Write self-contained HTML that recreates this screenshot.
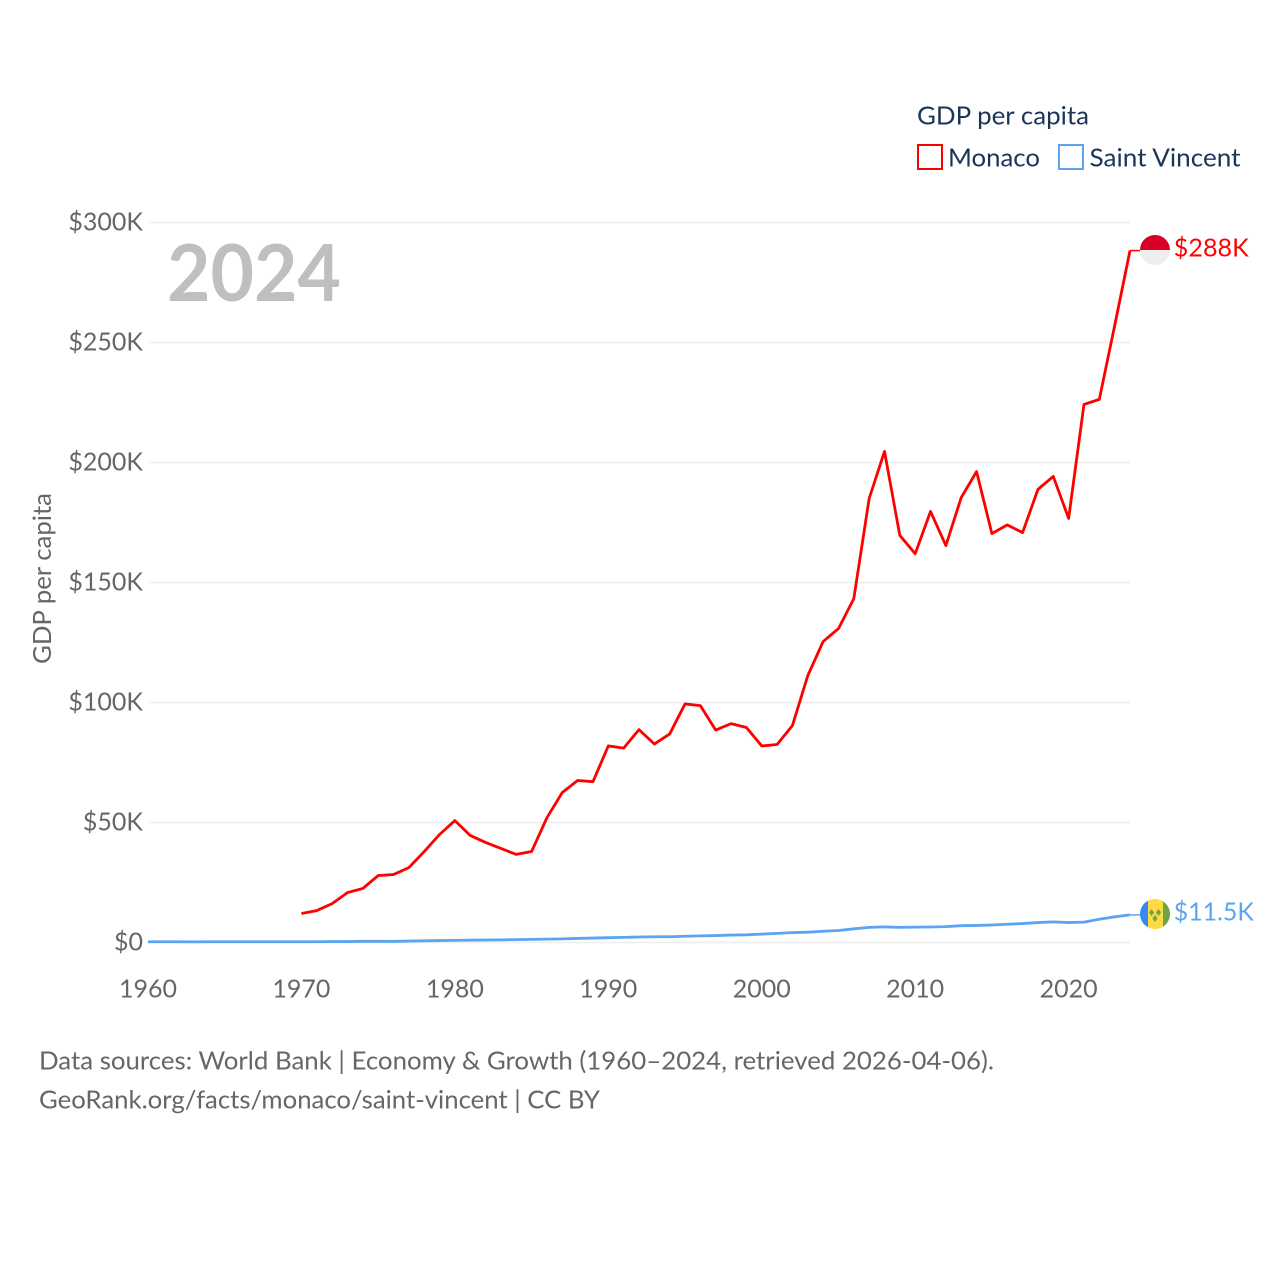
<!DOCTYPE html>
<html lang="en">
<head>
<meta charset="utf-8">
<title>GDP per capita: Monaco and Saint Vincent</title>
<style>
html,body{margin:0;padding:0;background:#fff;width:1280px;height:1280px;overflow:hidden}
svg{display:block}
text{font-family:"Lato","Carlito","Liberation Sans",sans-serif}
</style>
</head>
<body>
<svg id="chart" xmlns="http://www.w3.org/2000/svg" width="1280" height="1280" viewBox="0 0 1280 1280">
  <rect x="0" y="0" width="1280" height="1280" fill="#fff"/>
  <g id="grid"></g>
  <g id="yticks"></g>
  <g id="xticks"></g>
  <text x="167" y="301" font-size="79" font-weight="700" fill="#bfbfbf" textLength="174" lengthAdjust="spacingAndGlyphs">2024</text>
  <text transform="translate(51,664) rotate(-90)" font-size="25.500" fill="#666" textLength="171" lengthAdjust="spacingAndGlyphs">GDP per capita</text>
  <g id="series"></g>

  <g>
    <clipPath id="clip-mc"><circle cx="1155" cy="250" r="15"/></clipPath>
    <g clip-path="url(#clip-mc)">
      <rect x="1140" y="235" width="30" height="15" fill="#d80027"/>
      <rect x="1140" y="250" width="30" height="15" fill="#eeeeee"/>
    </g>
  </g>
  <text x="1173.800" y="256.500" font-size="25.500" fill="#ff0000" textLength="75" lengthAdjust="spacingAndGlyphs">$288K</text>

  <g>
    <clipPath id="clip-vc"><circle cx="1155" cy="914" r="15"/></clipPath>
    <g clip-path="url(#clip-vc)">
      <rect x="1140" y="899" width="8" height="30" fill="#338af3"/>
      <rect x="1148" y="899" width="15" height="30" fill="#ffda44"/>
      <rect x="1163" y="899" width="7" height="30" fill="#6da544"/>
      <path d="M1151.500 909l2.500 3.500-2.500 3.500-2.500-3.500zM1158.500 909l2.500 3.500-2.500 3.500-2.500-3.500zM1155 915l2.500 3.500-2.500 3.500-2.500-3.500z" fill="#6da544"/>
    </g>
  </g>
  <text x="1173.800" y="920.500" font-size="25.500" fill="#5ba4f0" textLength="80" lengthAdjust="spacingAndGlyphs">$11.5K</text>

  <g>
    <text x="917" y="124.500" font-size="25.500" fill="#1a3558" textLength="172" lengthAdjust="spacingAndGlyphs">GDP per capita</text>
    <g>
      <rect x="918" y="145" width="24" height="24" fill="#fff" stroke="#ff0000" stroke-width="2"/>
      <text x="948" y="166.500" font-size="25.500" fill="#1a3558" textLength="92" lengthAdjust="spacingAndGlyphs">Monaco</text>
    </g>
    <g>
      <rect x="1059" y="145" width="24" height="24" fill="#fff" stroke="#5ba4f0" stroke-width="2"/>
      <text x="1089.500" y="166.500" font-size="25.500" fill="#1a3558" textLength="151" lengthAdjust="spacingAndGlyphs">Saint Vincent</text>
    </g>
  </g>

  <text x="39" y="1069.500" font-size="25.500" fill="#666" textLength="955" lengthAdjust="spacingAndGlyphs">Data sources: World Bank | Economy &amp; Growth (1960–2024, retrieved 2026-04-06).</text>
  <text x="39" y="1108.500" font-size="25.500" fill="#666" textLength="561" lengthAdjust="spacingAndGlyphs">GeoRank.org/facts/monaco/saint-vincent | CC BY</text>
</svg>
<script>
var yearStart = 1960;
var yearEnd = 2024;
var yTickValues = [0, 50, 100, 150, 200, 250, 300];
var yTickLabels = ["$0", "$50K", "$100K", "$150K", "$200K", "$250K", "$300K"];
var xTickValues = [1960, 1970, 1980, 1990, 2000, 2010, 2020];
var xTickLabels = ["1960", "1970", "1980", "1990", "2000", "2010", "2020"];
var monacoStartYear = 1970;
var monacoValues = [12.1, 13.3, 16.2, 20.8, 22.5, 27.9, 28.3, 31.2, 37.9, 45, 50.8, 44.6, 41.7, 39.2, 36.7, 37.9, 52, 62.5, 67.5, 67, 81.9, 81, 88.7, 82.7, 86.9, 99.4, 98.7, 88.5, 91.2, 89.6, 81.9, 82.5, 90.4, 111.2, 125.4, 130.8, 143.3, 185, 204.6, 169.6, 162, 179.6, 165.4, 185.4, 196.2, 170.4, 174, 170.8, 188.8, 194.2, 176.7, 224.2, 226.3, 257, 288.3];
var saintVincentStartYear = 1960;
var saintVincentValues = [0.3, 0.3, 0.3, 0.25, 0.3, 0.3, 0.3, 0.3, 0.3, 0.3, 0.3, 0.3, 0.4, 0.4, 0.5, 0.5, 0.45, 0.6, 0.7, 0.8, 0.9, 1, 1.05, 1.1, 1.2, 1.3, 1.4, 1.5, 1.7, 1.85, 2, 2.15, 2.3, 2.4, 2.4, 2.6, 2.75, 2.9, 3.1, 3.2, 3.5, 3.8, 4.1, 4.3, 4.7, 5, 5.7, 6.3, 6.5, 6.3, 6.4, 6.45, 6.6, 7, 7.1, 7.3, 7.6, 7.9, 8.3, 8.6, 8.3, 8.5, 9.7, 10.7, 11.5];

var svgNS = "http://www.w3.org/2000/svg";
function xScale(year) {
  return 148 + (year - yearStart) * (982 / (yearEnd - yearStart));
}
function yScale(value) {
  return 942.500 - value * 2.4;
}
function makeSvg(tag, parent, attrs) {
  var el = document.createElementNS(svgNS, tag);
  for (var k in attrs) { el.setAttribute(k, attrs[k]); }
  parent.appendChild(el);
  return el;
}
function linePoints(startYear, values) {
  return values.map(function (v, i) {
    return xScale(startYear + i).toFixed(2) + "," + yScale(v).toFixed(2);
  });
}

var grid = document.getElementById("grid");
var yticks = document.getElementById("yticks");
var xticks = document.getElementById("xticks");
var series = document.getElementById("series");

yTickValues.forEach(function (v, i) {
  var ln = makeSvg("line", grid, {x1: xScale(yearStart), x2: xScale(yearEnd), y1: yScale(v), y2: yScale(v), stroke: "#eeeeee", "stroke-width": 1.5});
  
  
  var t = makeSvg("text", yticks, {x: 143, y: yScale(v) + 8, "text-anchor": "end", "font-size": 25, fill: "#666"});
  
  
  t.textContent = yTickLabels[i];
});

xTickValues.forEach(function (v, i) {
  var t = makeSvg("text", xticks, {x: xScale(v), y: 997.5, "text-anchor": "middle", "font-size": 25, fill: "#666"});
  
  
  t.textContent = xTickLabels[i];
});

var svLast = saintVincentValues[saintVincentValues.length - 1];
var svPts = linePoints(saintVincentStartYear, saintVincentValues);
var svLine = makeSvg("polyline", series, {points: svPts.join(" "), fill: "none", stroke: "#5ba4f0", "stroke-width": 2.8, "stroke-linejoin": "round"});


var svLead = makeSvg("line", series, {x1: xScale(yearEnd), x2: 1140, y1: yScale(svLast), y2: yScale(svLast), stroke: "#5ba4f0", "stroke-width": 1.5});



var mcLast = monacoValues[monacoValues.length - 1];
var mcPts = linePoints(monacoStartYear, monacoValues);
var mcLine = makeSvg("polyline", series, {points: mcPts.join(" "), fill: "none", stroke: "#ff0000", "stroke-width": 2.8, "stroke-linejoin": "round"});


var mcLead = makeSvg("line", series, {x1: xScale(yearEnd), x2: 1140, y1: yScale(mcLast), y2: yScale(mcLast), stroke: "#ff0000", "stroke-width": 1.5});


</script>
</body>
</html>
